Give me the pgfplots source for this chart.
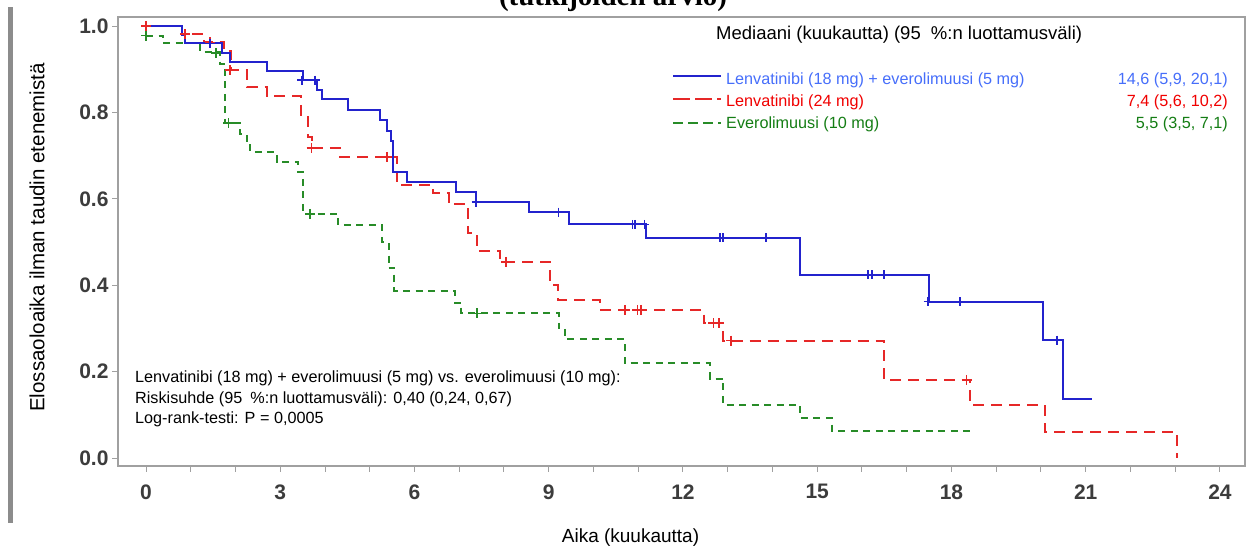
\documentclass[border=0pt]{standalone}
\usepackage{pgfplots}
\pgfplotsset{compat=1.18}
\usepackage{fontspec}
\setmainfont{Liberation Sans}
\newfontfamily\titlefont{Liberation Serif}
\definecolor{kmblue}{RGB}{35,35,205}
\definecolor{kmred}{RGB}{230,40,40}
\definecolor{kmgreen}{RGB}{40,140,40}
\definecolor{txtblue}{RGB}{70,110,250}
\definecolor{txtred}{RGB}{240,0,0}
\definecolor{txtgreen}{RGB}{20,125,20}
\definecolor{framegray}{RGB}{160,160,160}
\definecolor{ticklab}{RGB}{60,60,60}
\definecolor{bargray}{RGB}{140,140,140}
\begin{document}
\begin{tikzpicture}[x=1bp,y=1bp]
\useasboundingbox (0,0) rectangle (1246,546);
\clip (0,0) rectangle (1246,546);
\fill[bargray] (8,23) rectangle (13,539);
\node[anchor=base, font=\fontsize{29bp}{32bp}\selectfont\titlefont\bfseries] at (613,540.5) {(tutkijoiden arvio)};
\begin{axis}[
  at={(118bp,80bp)}, anchor=south west, scale only axis,
  width=1127bp, height=449bp,
  xmin=-0.626, xmax=24.56, ymin=-0.0185, ymax=1.021,
  axis line style={draw=framegray, line width=1.2bp},
  xtick={0,3,...,24}, minor xtick={0,...,24},
  ytick={0,0.2,0.4,0.6,0.8,1},
  tick align=outside, tick pos=left,
  major tick length=6bp, minor tick length=6bp,
  every tick/.style={framegray, line width=1bp},
  /pgf/number format/assume math mode=true,
  yticklabel style={/pgf/number format/.cd, fixed, fixed zerofill, precision=1},
  xticklabel style={yshift=-9bp},
  ticklabel style={font=\fontsize{21bp}{24bp}\selectfont\bfseries, text=ticklab},
]
\addplot[const plot, kmgreen, line width=2bp, dash pattern=on 7bp off 5.5bp] coordinates {
(0,0.978) (0.38,0.960) (1.20,0.940) (1.65,0.912) (1.77,0.775) (2.10,0.751) (2.25,0.728) (2.32,0.709) (2.92,0.686) (3.40,0.663) (3.50,0.565) (4.30,0.539) (5.28,0.50) (5.42,0.44) (5.55,0.387) (6.90,0.36) (7.05,0.335) (9.22,0.30) (9.37,0.275) (10.70,0.219) (12.60,0.184) (12.90,0.123) (14.62,0.092) (15.33,0.063) (18.42,0.063)};
\addplot[const plot, kmred, line width=2bp, dash pattern=on 11bp off 7bp] coordinates {
(0,1.0) (0.80,0.981) (1.30,0.962) (1.75,0.942) (1.90,0.898) (2.25,0.858) (2.70,0.838) (3.47,0.794) (3.62,0.744) (3.70,0.717) (4.34,0.697) (5.60,0.632) (6.42,0.613) (6.76,0.588) (7.20,0.520) (7.39,0.480) (7.91,0.454) (9.03,0.40) (9.20,0.366) (10.15,0.343) (12.46,0.312) (12.89,0.272) (16.49,0.181) (18.42,0.123) (20.09,0.061) (23.04,0.0)};
\addplot[const plot, kmblue, line width=2bp] coordinates {
(0,1.0) (0.80,0.979) (0.87,0.960) (1.69,0.938) (1.88,0.917) (2.70,0.896) (3.51,0.875) (3.82,0.852) (3.93,0.830) (4.52,0.806) (5.23,0.782) (5.38,0.758) (5.47,0.735) (5.52,0.663) (5.83,0.640) (6.93,0.615) (7.38,0.592) (8.57,0.569) (9.46,0.541) (11.17,0.510) (14.62,0.424) (17.49,0.362) (20.04,0.273) (20.49,0.137) (21.15,0.137)};
\addplot[only marks, mark=+, mark size=5bp, kmgreen, mark options={line width=1.6bp}] coordinates {
(0,0.978) (1.57,0.938) (1.84,0.775) (3.67,0.565) (7.40,0.335)};
\addplot[only marks, mark=+, mark size=5bp, kmred, mark options={line width=1.6bp}] coordinates {
(0,1.0) (0.87,0.981) (1.43,0.962) (1.88,0.898) (3.70,0.717) (5.38,0.697) (8.05,0.454) (10.70,0.343) (10.98,0.343) (11.06,0.343) (12.68,0.312) (12.81,0.312) (13.07,0.272) (18.34,0.181)};
\addplot[only marks, mark=+, mark size=4.5bp, kmblue, mark options={line width=1.6bp}] coordinates {
(1.43,0.960) (3.48,0.875) (3.78,0.875) (7.38,0.592) (9.22,0.569) (10.87,0.541) (10.93,0.541) (11.14,0.541) (12.83,0.510) (12.90,0.510) (13.85,0.510) (16.13,0.424) (16.23,0.424) (16.49,0.424) (17.48,0.362) (18.19,0.362) (20.36,0.273)};
\end{axis}
% axis labels
\node[anchor=base, font=\fontsize{19bp}{22bp}\selectfont] at (630.5,3) {Aika (kuukautta)};
\node[rotate=90, font=\fontsize{20.5bp}{23bp}\selectfont] at (37,308.5) {Elossaoloaika ilman taudin etenemistä};
% annotation
\begin{scope}[every node/.style={anchor=base west, inner sep=0pt, font=\fontsize{16.2bp}{19bp}\selectfont}]
\node at (135,163) {Lenvatinibi (18 mg) + everolimuusi (5 mg) vs. everolimuusi (10 mg):};
\node at (135,142.5) {Riskisuhde (95\hspace{0.5em}\%:n luottamusväli): 0,40 (0,24, 0,67)};
\node at (135,122) {Log-rank-testi: P = 0,0005};
\end{scope}
% legend
\node[anchor=base west, inner sep=0pt, font=\fontsize{18.5bp}{21bp}\selectfont] at (716,506) {Mediaani (kuukautta) (95\hspace{0.55em}\%:n luottamusväli)};
\draw[kmblue, line width=2bp] (673,470) -- (721,470);
\draw[kmred, line width=2bp, dash pattern=on 17bp off 5bp] (673,447) -- (721,447);
\draw[kmgreen, line width=2bp, dash pattern=on 10bp off 5bp] (673,423.3) -- (721,423.3);
\begin{scope}[every node/.style={inner sep=0pt, font=\fontsize{16.2bp}{19bp}\selectfont}]
\node[anchor=base west, text=txtblue] at (726,461) {Lenvatinibi (18 mg) + everolimuusi (5 mg)};
\node[anchor=base west, text=txtred] at (726,439) {Lenvatinibi (24 mg)};
\node[anchor=base west, text=txtgreen] at (726,417.5) {Everolimuusi (10 mg)};
\node[anchor=base east, text=txtblue] at (1228,461) {14,6 (5,9, 20,1)};
\node[anchor=base east, text=txtred] at (1228,439) {7,4 (5,6, 10,2)};
\node[anchor=base east, text=txtgreen] at (1228,417.5) {5,5 (3,5, 7,1)};
\end{scope}
\end{tikzpicture}
\end{document}
